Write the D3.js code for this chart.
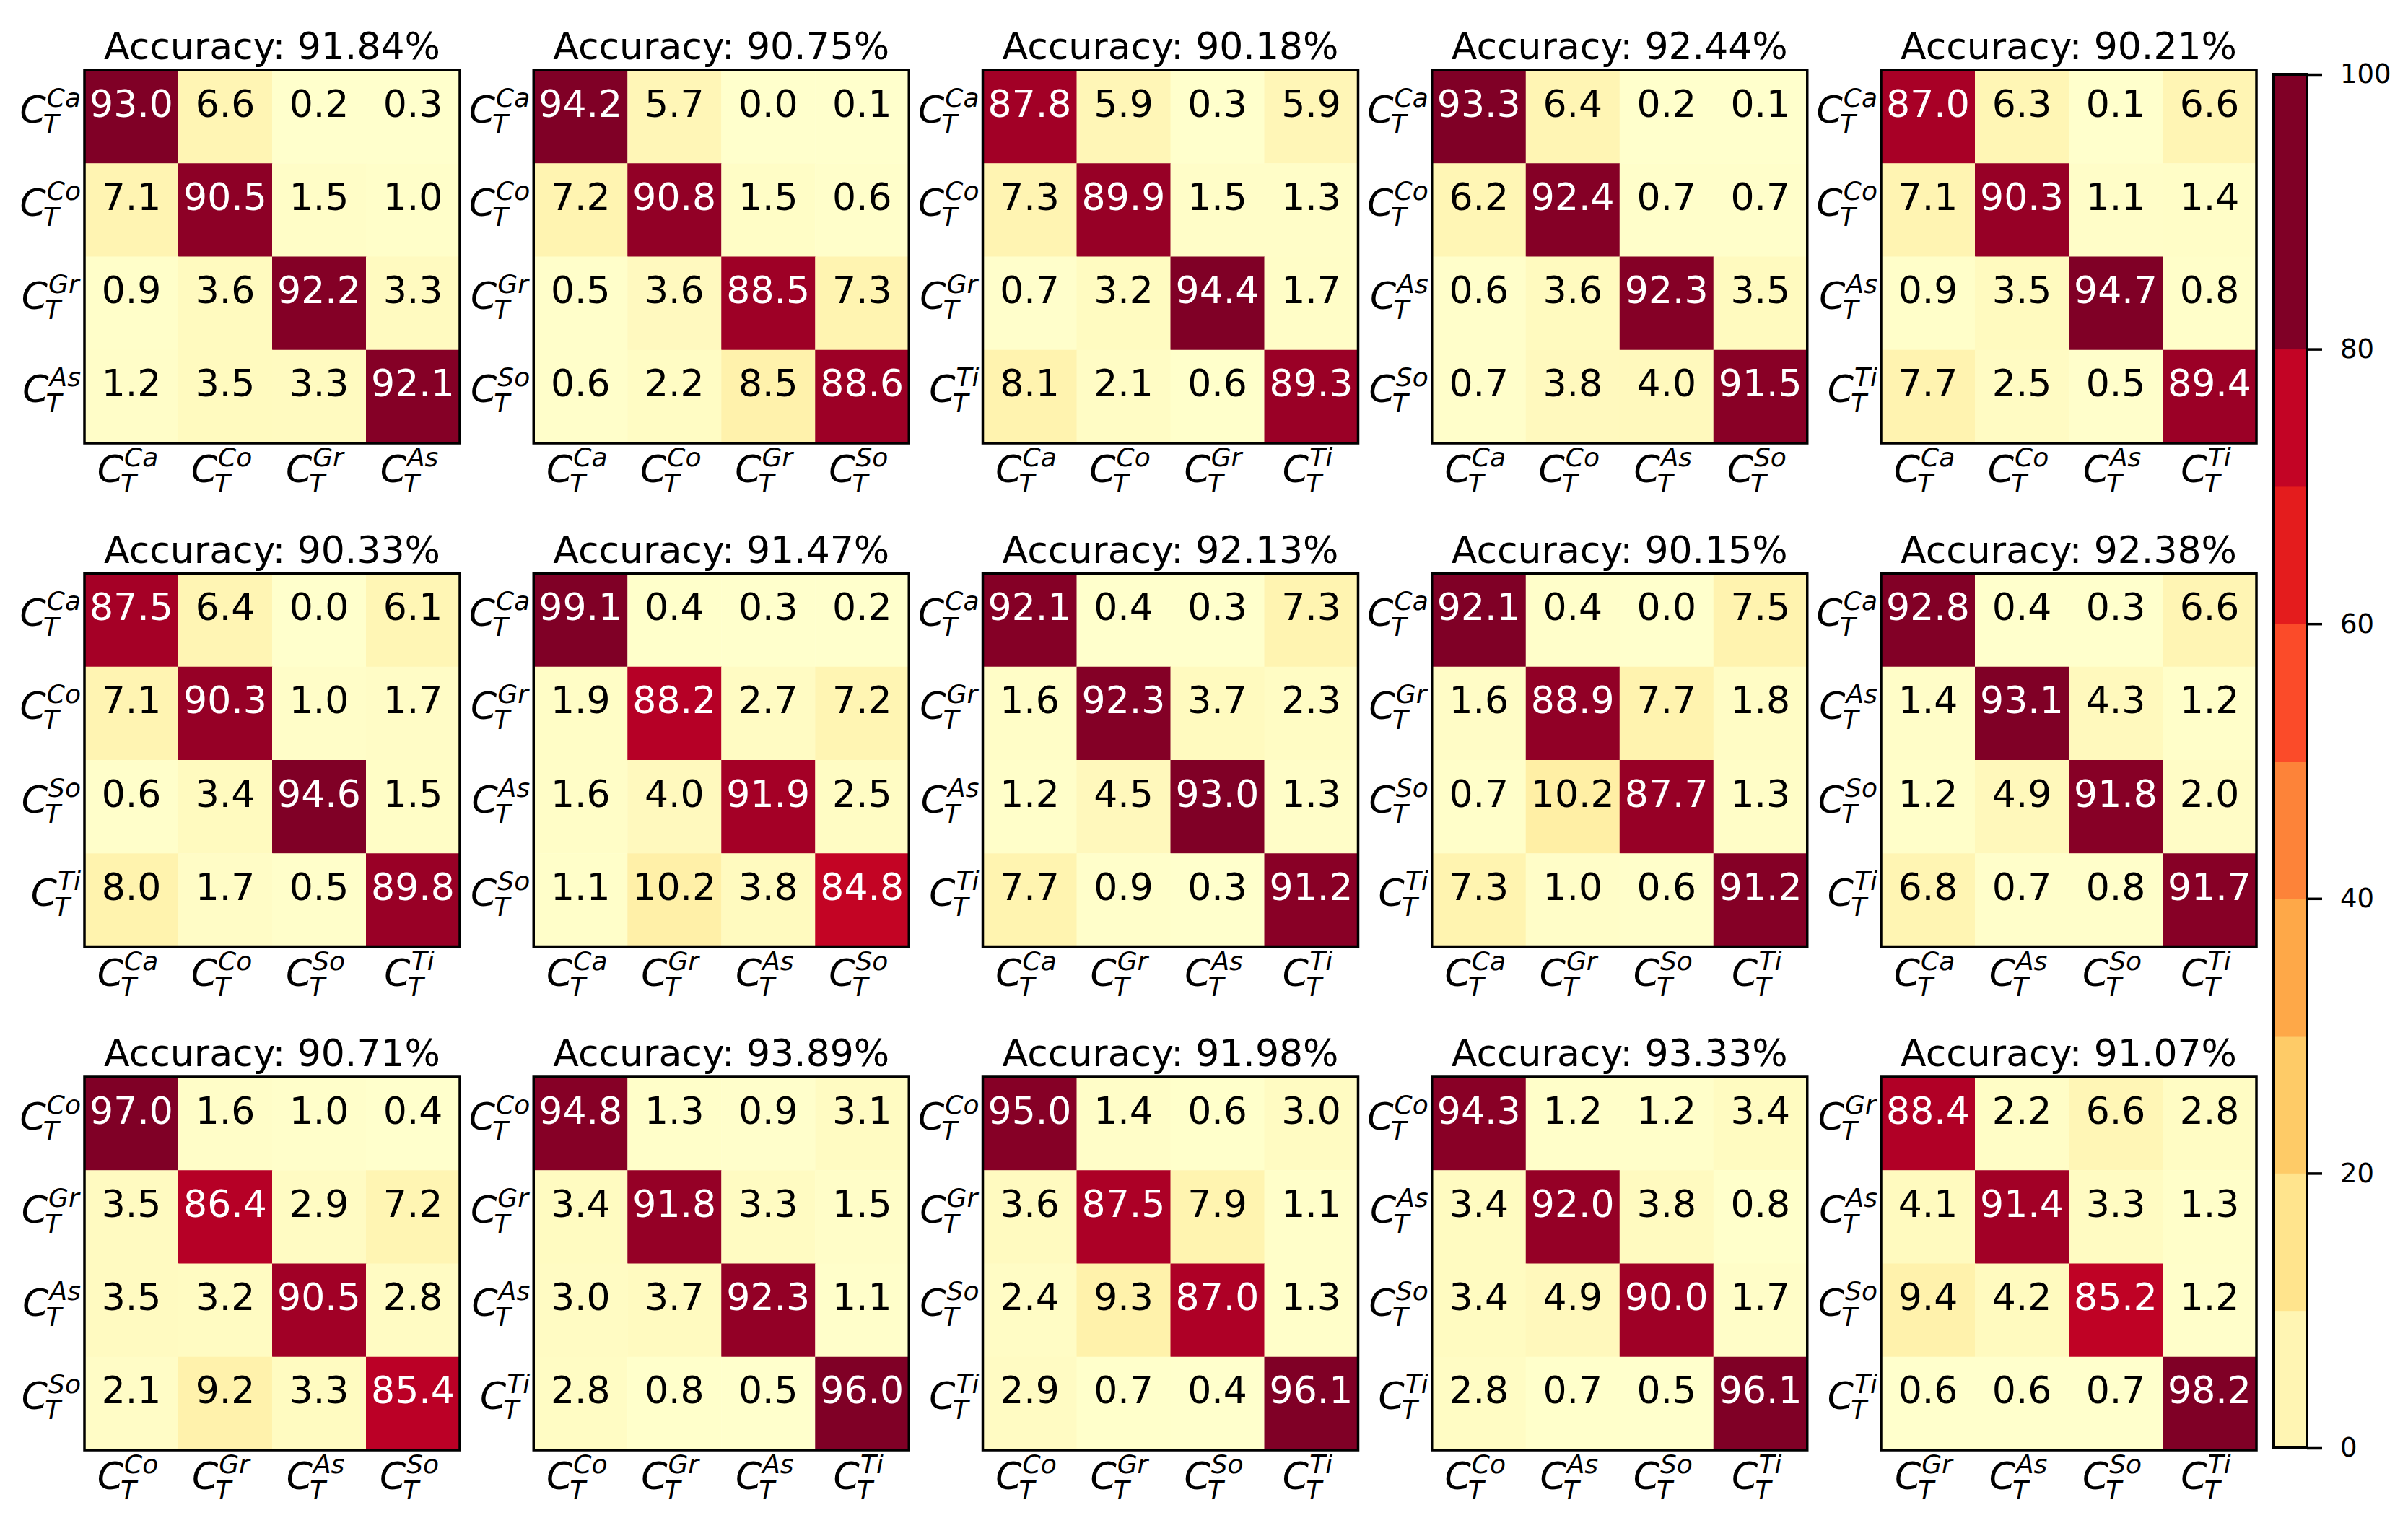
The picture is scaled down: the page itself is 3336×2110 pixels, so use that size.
<!DOCTYPE html>
<html>
<head>
<meta charset="utf-8">
<script src="https://cdn.jsdelivr.net/npm/d3@7"></script>
<style>
  html, body { margin: 0; padding: 0; background: #fff; }
  svg { display: block; font-family: "DejaVu Sans", sans-serif; }
</style>
</head>
<body>
<div id="chart"></div>
<script>
// accuracy shown above each panel (%)
const accuracies = [91.84, 90.75, 90.18, 92.44, 90.21,
                    90.33, 91.47, 92.13, 90.15, 92.38,
                    90.71, 93.89, 91.98, 93.33, 91.07];

// class superscripts for each panel (rows = true, cols = predicted, same order)
const classSets = [
    ['Ca', 'Co', 'Gr', 'As'], ['Ca', 'Co', 'Gr', 'So'], ['Ca', 'Co', 'Gr', 'Ti'], ['Ca', 'Co', 'As', 'So'], ['Ca', 'Co', 'As', 'Ti'],
    ['Ca', 'Co', 'So', 'Ti'], ['Ca', 'Gr', 'As', 'So'], ['Ca', 'Gr', 'As', 'Ti'], ['Ca', 'Gr', 'So', 'Ti'], ['Ca', 'As', 'So', 'Ti'],
    ['Co', 'Gr', 'As', 'So'], ['Co', 'Gr', 'As', 'Ti'], ['Co', 'Gr', 'So', 'Ti'], ['Co', 'As', 'So', 'Ti'], ['Gr', 'As', 'So', 'Ti']
];

// confusion matrices (%)
const matrices = [
    [[93.0, 6.6, 0.2, 0.3], [7.1, 90.5, 1.5, 1.0], [0.9, 3.6, 92.2, 3.3], [1.2, 3.5, 3.3, 92.1]],
    [[94.2, 5.7, 0.0, 0.1], [7.2, 90.8, 1.5, 0.6], [0.5, 3.6, 88.5, 7.3], [0.6, 2.2, 8.5, 88.6]],
    [[87.8, 5.9, 0.3, 5.9], [7.3, 89.9, 1.5, 1.3], [0.7, 3.2, 94.4, 1.7], [8.1, 2.1, 0.6, 89.3]],
    [[93.3, 6.4, 0.2, 0.1], [6.2, 92.4, 0.7, 0.7], [0.6, 3.6, 92.3, 3.5], [0.7, 3.8, 4.0, 91.5]],
    [[87.0, 6.3, 0.1, 6.6], [7.1, 90.3, 1.1, 1.4], [0.9, 3.5, 94.7, 0.8], [7.7, 2.5, 0.5, 89.4]],
    [[87.5, 6.4, 0.0, 6.1], [7.1, 90.3, 1.0, 1.7], [0.6, 3.4, 94.6, 1.5], [8.0, 1.7, 0.5, 89.8]],
    [[99.1, 0.4, 0.3, 0.2], [1.9, 88.2, 2.7, 7.2], [1.6, 4.0, 91.9, 2.5], [1.1, 10.2, 3.8, 84.8]],
    [[92.1, 0.4, 0.3, 7.3], [1.6, 92.3, 3.7, 2.3], [1.2, 4.5, 93.0, 1.3], [7.7, 0.9, 0.3, 91.2]],
    [[92.1, 0.4, 0.0, 7.5], [1.6, 88.9, 7.7, 1.8], [0.7, 10.2, 87.7, 1.3], [7.3, 1.0, 0.6, 91.2]],
    [[92.8, 0.4, 0.3, 6.6], [1.4, 93.1, 4.3, 1.2], [1.2, 4.9, 91.8, 2.0], [6.8, 0.7, 0.8, 91.7]],
    [[97.0, 1.6, 1.0, 0.4], [3.5, 86.4, 2.9, 7.2], [3.5, 3.2, 90.5, 2.8], [2.1, 9.2, 3.3, 85.4]],
    [[94.8, 1.3, 0.9, 3.1], [3.4, 91.8, 3.3, 1.5], [3.0, 3.7, 92.3, 1.1], [2.8, 0.8, 0.5, 96.0]],
    [[95.0, 1.4, 0.6, 3.0], [3.6, 87.5, 7.9, 1.1], [2.4, 9.3, 87.0, 1.3], [2.9, 0.7, 0.4, 96.1]],
    [[94.3, 1.2, 1.2, 3.4], [3.4, 92.0, 3.8, 0.8], [3.4, 4.9, 90.0, 1.7], [2.8, 0.7, 0.5, 96.1]],
    [[88.4, 2.2, 6.6, 2.8], [4.1, 91.4, 3.3, 1.3], [9.4, 4.2, 85.2, 1.2], [0.6, 0.6, 0.7, 98.2]]
];

// colorbar
const cbarEdges = [0, 10, 20, 30, 40, 50, 60, 70, 80, 100];
const cbarTicks = [0, 20, 40, 60, 80, 100];

const width = 3336, height = 2110;
const nCols = 5;
const left0 = 117, colStep = 622.25;
const top0 = 97, rowStep = 697.5;
const boxW = 520, boxH = 517;
const fontSize = 52, scriptSize = 36;

// matplotlib-style YlOrRd (linear between the 9 brewer colours)
const ylorrd = d3.scaleLinear()
    .domain(d3.range(9).map(i => i / 8))
    .range(d3.schemeYlOrRd[9])
    .interpolate(d3.interpolateRgb)
    .clamp(true);

const svg = d3.select('#chart').append('svg')
    .attr('width', width)
    .attr('height', height)
    .attr('viewBox', [0, 0, width, height]);

// C_T^{xx} label, returns group with origin at the C baseline
const mathLabel = (sel, sup) => {
    const g = sel.append('g');
    const c = g.append('text')
        .attr('font-style', 'italic')
        .attr('font-size', fontSize)
        .text('C');
    const cw = c.node().getComputedTextLength();
    g.append('text')
        .attr('x', cw + 1)
        .attr('y', -22)
        .attr('font-style', 'italic')
        .attr('font-size', scriptSize)
        .text(sup);
    g.append('text')
        .attr('x', cw - 4)
        .attr('y', 14)
        .attr('font-style', 'italic')
        .attr('font-size', scriptSize)
        .text('T');
    return g;
};

matrices.forEach((m, k) => {
    const col = k % nCols, row = Math.floor(k / nCols);
    const x0 = left0 + col * colStep;
    const y0 = top0 + row * rowStep;
    const labels = classSets[k];

    const x = d3.scaleBand().domain(d3.range(4)).range([0, boxW]);
    const y = d3.scaleBand().domain(d3.range(4)).range([0, boxH]);

    const flat = m.flat();
    const lo = d3.min(flat), hi = d3.max(flat);
    const norm = d3.scaleLinear().domain([lo, hi]).range([0, 1]);

    const g = svg.append('g').attr('transform', `translate(${x0},${y0})`);

    const cells = flat.map((v, i) => ({ v, r: Math.floor(i / 4), c: i % 4 }));

    g.selectAll('rect.cell')
        .data(cells)
        .join('rect')
        .attr('class', 'cell')
        .attr('x', d => x(d.c))
        .attr('y', d => y(d.r))
        .attr('width', x.bandwidth() + 0.5)
        .attr('height', y.bandwidth() + 0.5)
        .attr('fill', d => ylorrd(norm(d.v)));

    g.selectAll('text.val')
        .data(cells)
        .join('text')
        .attr('class', 'val')
        .attr('x', d => x(d.c) + x.bandwidth() / 2)
        .attr('y', d => y(d.r) + y.bandwidth() / 2)
        .attr('text-anchor', 'middle')
        .attr('font-size', fontSize)
        .attr('fill', d => d.v > (lo + hi) / 2 ? '#fff' : '#000')
        .text(d => d.v.toFixed(1));

    g.append('rect')
        .attr('width', boxW)
        .attr('height', boxH)
        .attr('fill', 'none')
        .attr('stroke', '#000')
        .attr('stroke-width', 3.5);

    g.append('text')
        .attr('x', boxW / 2)
        .attr('y', -15)
        .attr('text-anchor', 'middle')
        .attr('font-size', fontSize)
        .text(`Accuracy: ${accuracies[k].toFixed(2)}%`);

    // row labels
    labels.forEach((lab, i) => {
        const lg = mathLabel(g, lab);
        const bb = lg.node().getBBox();
        lg.attr('transform', `translate(${-5 - (bb.x + bb.width)},${y(i) + y.bandwidth() / 2 + 8})`);
    });
    // column labels
    labels.forEach((lab, i) => {
        const lg = mathLabel(g, lab);
        const bb = lg.node().getBBox();
        lg.attr('transform', `translate(${x(i) + x.bandwidth() / 2 - (bb.x + bb.width / 2) - 5},${boxH + 54})`);
    });
});

// colorbar
const cbX = 3150, cbW = 46;
const cbScale = d3.scaleLinear().domain([0, 100]).range([2006, 103]);
const cb = svg.append('g');
const bins = d3.pairs(cbarEdges);
cb.selectAll('rect.bin')
    .data(bins)
    .join('rect')
    .attr('class', 'bin')
    .attr('x', cbX)
    .attr('width', cbW)
    .attr('y', d => cbScale(d[1]))
    .attr('height', d => cbScale(d[0]) - cbScale(d[1]) + 0.5)
    .attr('fill', (d, i) => ylorrd(i === bins.length - 1 ? 1 : (i + 0.625) / 8.9));
cb.append('rect')
    .attr('x', cbX)
    .attr('y', cbScale(100))
    .attr('width', cbW)
    .attr('height', cbScale(0) - cbScale(100))
    .attr('fill', 'none')
    .attr('stroke', '#000')
    .attr('stroke-width', 4);

const cbAxis = d3.axisRight(cbScale)
    .tickValues(cbarTicks)
    .tickSize(21)
    .tickPadding(25)
    .tickFormat(d3.format('d'));
const ax = svg.append('g')
    .attr('transform', `translate(${cbX + cbW},0)`)
    .call(cbAxis);
ax.select('.domain').remove();
ax.selectAll('.tick line').attr('stroke', '#000').attr('stroke-width', 3.5);
ax.selectAll('.tick text')
    .attr('font-size', 37)
    .attr('font-family', '"DejaVu Sans", sans-serif')
    .attr('fill', '#000');
</script>
</body>
</html>
